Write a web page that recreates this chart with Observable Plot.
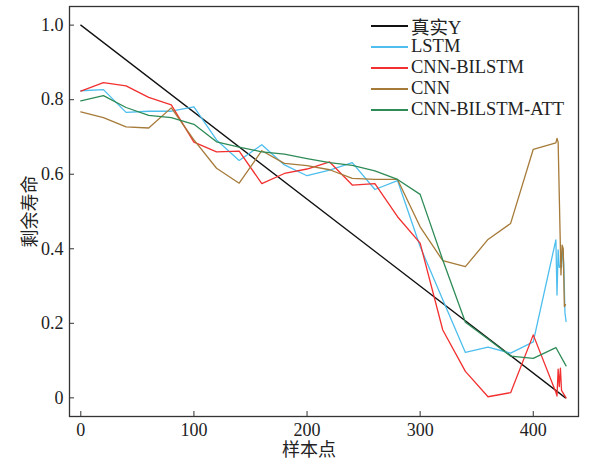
<!DOCTYPE html>
<html>
<head>
<meta charset="utf-8">
<script src="https://cdn.jsdelivr.net/npm/d3@7"></script>
<script src="https://cdn.jsdelivr.net/npm/@observablehq/plot@0.6"></script>
<style>
  body { margin: 0; background: #fff; }
  #wrap { position: relative; width: 591px; height: 464px; font-family: "Liberation Serif", "Noto Sans CJK SC", serif; }
  #legend { position: absolute; left: 371px; top: 15px; font-size: 18.5px; color: #222; }
  .row { display: flex; align-items: center; height: 21px; }
  .sw { width: 37px; height: 0; border-top: 2px solid; margin-right: 3px; }
</style>
</head>
<body>
<div id="wrap"><div id="legend"></div></div>
<script>
const seriesNames = ["真实Y", "LSTM", "CNN-BILSTM", "CNN", "CNN-BILSTM-ATT"];
const seriesColors = ["#111111", "#4DBEEE", "#F2302F", "#A67A38", "#2E8B57"];

const trueX = [0, 428.5];
const trueY = [1.0, 0.0];

const lstmX = [0,20,40,60,80,100,120,140,160,180,200,220,240,260,280,300,320,340,360,380,400,420,421,422,423,424,425,426,427,428,429];
const lstmY = [0.824,0.827,0.766,0.769,0.769,0.781,0.692,0.637,0.679,0.625,0.596,0.611,0.631,0.559,0.583,0.406,0.263,0.122,0.136,0.120,0.150,0.424,0.276,0.397,0.350,0.355,0.350,0.400,0.360,0.230,0.205];

const cbX = [0,20,40,60,80,100,120,140,160,180,200,220,240,260,280,300,320,340,360,380,400,420,421,422,423,424,425,427,429];
const cbY = [0.823,0.846,0.837,0.806,0.786,0.686,0.660,0.662,0.575,0.602,0.614,0.633,0.571,0.575,0.486,0.415,0.182,0.071,0.003,0.014,0.169,0.015,0.005,0.077,0.030,0.080,0.020,0.010,0.000];

const cnnX = [0,20,40,60,80,100,120,140,160,180,200,220,240,260,280,300,320,340,360,380,400,420,421,422,424.5,425.5,426.5,427.5,428.5];
const cnnY = [0.767,0.752,0.727,0.724,0.778,0.692,0.616,0.576,0.663,0.629,0.623,0.612,0.589,0.586,0.586,0.459,0.368,0.352,0.425,0.468,0.667,0.684,0.696,0.686,0.330,0.410,0.400,0.245,0.250];

const attX = [0,20,40,60,80,100,120,140,160,180,200,220,240,260,280,300,320,340,360,380,400,420,429];
const attY = [0.797,0.811,0.779,0.758,0.752,0.734,0.687,0.673,0.660,0.654,0.642,0.631,0.624,0.609,0.586,0.546,0.370,0.203,0.158,0.112,0.106,0.135,0.086];

const xTicks = [0, 100, 200, 300, 400];
const yTicks = [0, 0.2, 0.4, 0.6, 0.8, 1.0];
const yTickLabels = ["0", "0.2", "0.4", "0.6", "0.8", "1.0"];
const xLabel = "样本点";
const yLabel = "剩余寿命";

const seriesXs = [trueX, lstmX, cbX, cnnX, attX];
const seriesYs = [trueY, lstmY, cbY, cnnY, attY];
const rows = [];
seriesNames.forEach((name, i) => {
  seriesXs[i].forEach((x, j) => rows.push({series: name, x, y: seriesYs[i][j]}));
});

const plot = Plot.plot({
  width: 591,
  height: 464,
  marginLeft: 69,
  marginRight: 13,
  marginTop: 6,
  marginBottom: 48,
  style: { fontFamily: '"Liberation Serif", "Noto Sans CJK SC", serif', fontSize: "18px", color: "#222", background: "white" },
  x: { domain: [-10, 440] },
  y: { domain: [-0.05, 1.05] },
  color: { domain: seriesNames, range: seriesColors },
  marks: [
    ...seriesNames.map(name => Plot.line(rows.filter(d => d.series === name), {
      x: "x", y: "y", stroke: "series", strokeWidth: 1.3
    })),
    Plot.frame({ stroke: "#333", strokeWidth: 1.3 }),
    Plot.axisX({ ticks: xTicks, tickSize: -5, tickPadding: 12, stroke: "#333", label: null, fontSize: 18 }),
    Plot.text([xLabel], { text: d => d, frameAnchor: "bottom", dx: -15, dy: 34, lineAnchor: "middle", fontSize: 18, fill: "#222" }),
    Plot.axisY({ ticks: yTicks, tickFormat: d => yTickLabels[yTicks.indexOf(d)], tickSize: -5, tickPadding: 11, stroke: "#333", label: yLabel, labelAnchor: "center", labelArrow: "none", labelOffset: 46, fontSize: 18 })
  ]
});
document.getElementById("wrap").prepend(plot);

const legend = document.getElementById("legend");
seriesNames.forEach((name, i) => {
  const row = document.createElement("div");
  row.className = "row";
  const sw = document.createElement("span");
  sw.className = "sw";
  sw.style.borderColor = seriesColors[i];
  const t = document.createElement("span");
  t.textContent = name;
  row.append(sw, t);
  legend.append(row);
});
</script>
</body>
</html>
